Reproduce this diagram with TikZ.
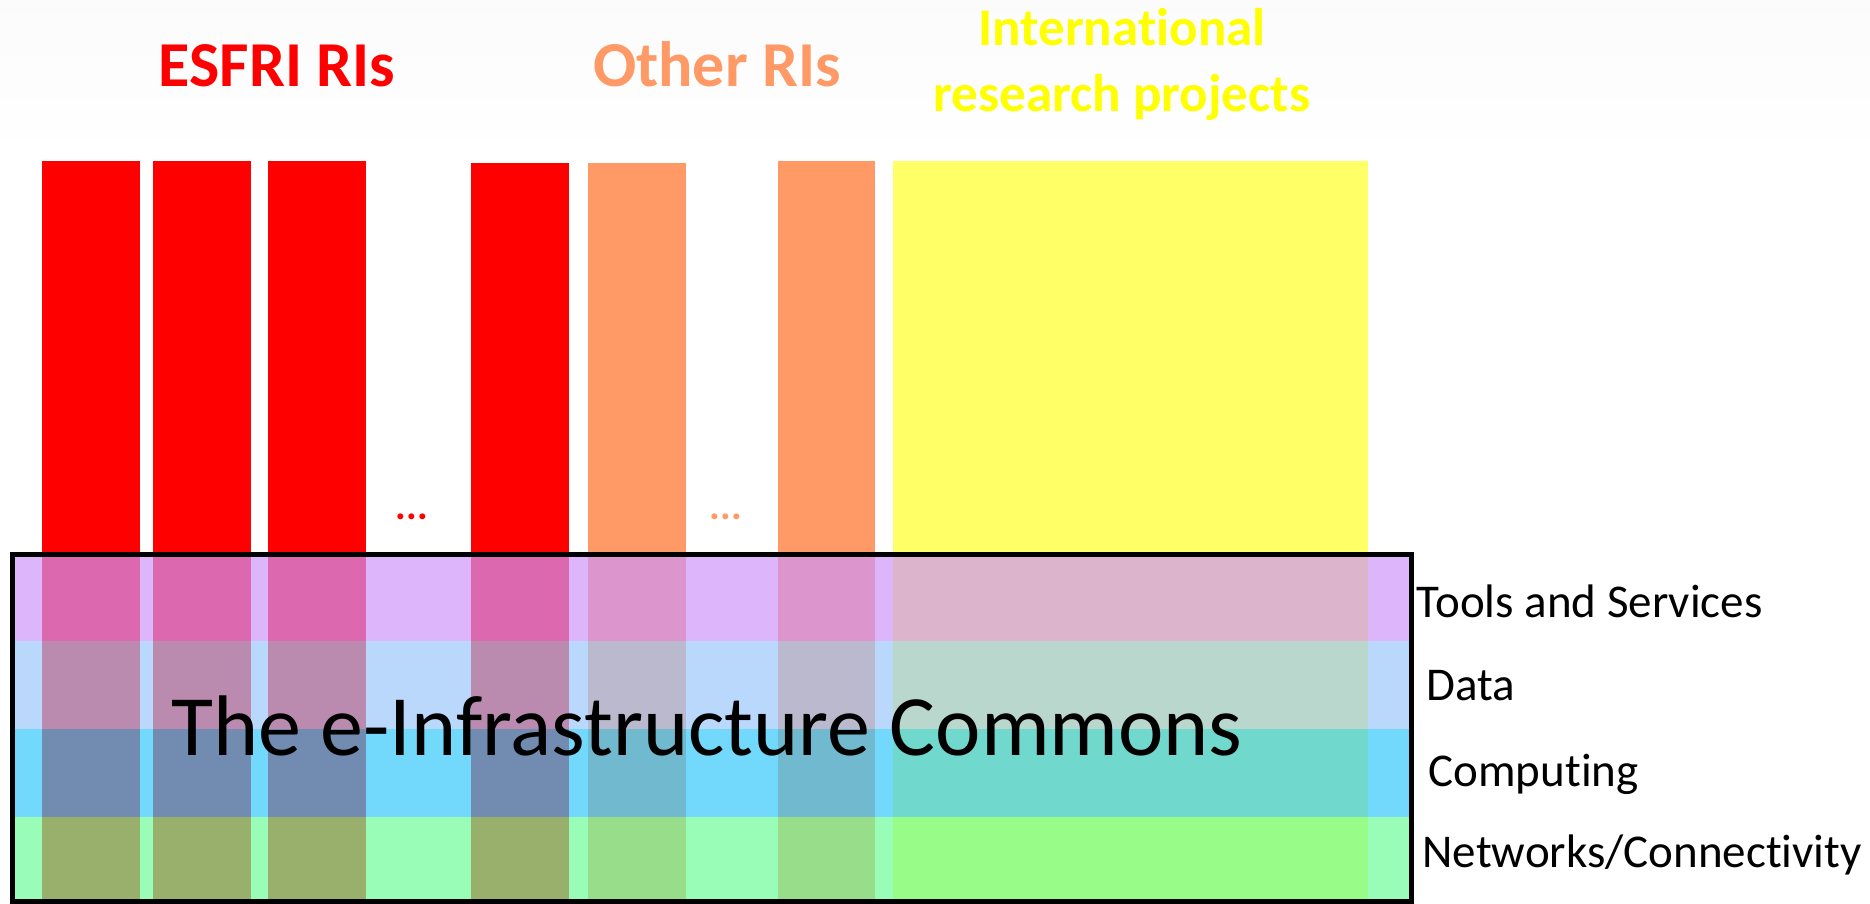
\documentclass[tikz,border=0pt]{standalone}
\usepackage{fontspec}
\setmainfont{Carlito}[Ligatures=NoCommon]
\definecolor{esfri}{HTML}{FF0000}
\definecolor{otherri}{HTML}{FF9966}
\definecolor{intproj}{HTML}{FFFF66}
\definecolor{inttext}{HTML}{FFFF00}
\definecolor{toolsband}{RGB}{206,150,250}
\definecolor{databand}{RGB}{157,199,250}
\definecolor{compband}{RGB}{54,200,251}
\definecolor{netband}{RGB}{109,251,153}
\tikzset{
  band/.style={fill opacity=0.7},
  title/.style={anchor=base, font=\bfseries\fontsize{64}{66}\selectfont, align=center},
  layer/.style={anchor=base west, font=\fontsize{47}{50}\selectfont},
}
\begin{document}
\begin{tikzpicture}[x=1pt,y=-1pt]
  \useasboundingbox (0,0) rectangle (1870,903);
  \shade[top color=gray!3, bottom color=white] (0,0) rectangle (1870,160);
  % research infrastructures
  \foreach \x in {42,153,268} \fill[esfri] (\x,161) rectangle ++(98,742);
  \fill[esfri] (471,163) rectangle ++(98,740);
  \fill[otherri] (588,163) rectangle ++(98,740);
  \fill[otherri] (778,161) rectangle ++(97,742);
  \fill[intproj] (893,161) rectangle (1368,903);
  \node[anchor=base, text=esfri, font=\bfseries\fontsize{40}{40}\selectfont] (dotsA) at (412,519) {...};
  \node[anchor=base, text=otherri, font=\bfseries\fontsize{40}{40}\selectfont] (dotsB) at (726,519) {...};
  \node[title, text=esfri] (esfriT) at (277,86) {ESFRI RIs};
  \node[title, text=otherri] (otherT) at (717,86) {Other RIs};
  \node[title, text=inttext, font=\bfseries\fontsize{53}{66}\selectfont] (intT) at (1122,111) {International\\research projects};
  % the commons
  \fill[band, toolsband] (12,554) rectangle (1411,641);
  \fill[band, databand] (12,641) rectangle (1411,729);
  \fill[band, compband] (12,729) rectangle (1411,817);
  \fill[band, netband] (12,817) rectangle (1411,901);
  \draw[line width=5pt] (12,554) rectangle (1411,901);
  \node[anchor=base, font=\fontsize{86}{86}\selectfont] (commons) at (707,755) {The e-Infrastructure Commons};
  \node[layer] (tools) at (1413,617) {Tools and Services};
  \node[layer] (data) at (1423,700) {Data};
  \node[layer] (comp) at (1425,786) {Computing};
  \node[layer] (net) at (1419,867) {Networks/Connectivity};
\end{tikzpicture}
\end{document}
